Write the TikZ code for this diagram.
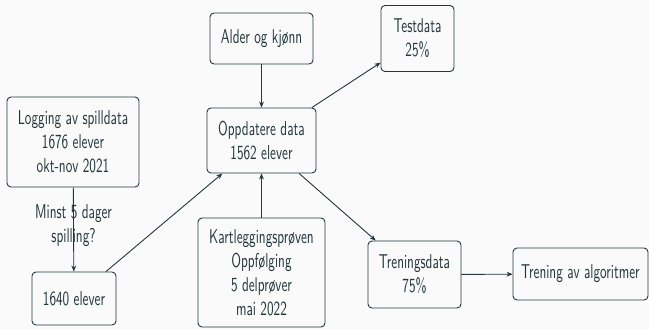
\documentclass[tikz,border=0pt]{standalone}
\usepackage{fontspec}
\setsansfont{lmsans10-regular.otf}[FakeStretch=0.66]
\usepackage{tikz}
\usetikzlibrary{positioning,arrows.meta,calc}
\definecolor{ink}{HTML}{23373B}
\definecolor{paper}{HTML}{FAFAFA}

\begin{document}
\begin{tikzpicture}[
  x=0.5pt, y=-0.5pt,
  font=\sffamily,
  every node/.style={text=ink},
  stage/.style={draw=ink, rounded corners=2pt, align=center, line width=0.45pt,
                inner sep=0pt},
  flow/.style={draw=ink, line width=0.45pt, -{Stealth[length=3pt,width=2.4pt]}},
  cond/.style={align=center, inner sep=1pt},
]

\fill[paper] (0,0) rectangle (649,329);
\useasboundingbox (0,0) rectangle (649,329);

% input side
\node[stage, minimum width=66pt, minimum height=45pt] (logg) at (73,142)
  {Logging av spilldata\\1676 elever\\okt-nov 2021};
\node[stage, minimum width=42pt, minimum height=26.5pt] (utvalg) at (74,298.5)
  {1640 elever};
\node[stage, minimum width=51.5pt, minimum height=25.5pt] (alder) at (261.5,38.5)
  {Alder og kjønn};
\node[stage, minimum width=54.5pt, minimum height=32.5pt] (oppdatere) at (261.5,140.5)
  {Oppdatere data\\1562 elever};
\node[stage, minimum width=63.5pt, minimum height=54.5pt] (kartlegging) at (261.5,272.5)
  {Kartleggingsprøven\\Oppfølging\\5 delprøver\\mai 2022};

% output side
\node[stage, minimum width=36.5pt, minimum height=33pt] (test) at (417.5,38.5)
  {Testdata\\25\%};
\node[stage, minimum width=46.5pt, minimum height=33.5pt] (trening) at (414.5,274.5)
  {Treningsdata\\75\%};
\node[stage, minimum width=67.5pt, minimum height=26pt] (algo) at (580.5,274)
  {Trening av algoritmer};

\draw[flow] (logg) -- (utvalg)
  node[cond, midway, yshift=2pt] {Minst 5 dager\\spilling?};
\draw[flow] (utvalg) -- (oppdatere);
\draw[flow] (alder) -- (oppdatere);
\draw[flow] (kartlegging) -- (oppdatere);
\draw[flow] (oppdatere) -- (test);
\draw[flow] (oppdatere) -- (trening);
\draw[flow] (trening) -- (algo);

\end{tikzpicture}
\end{document}
